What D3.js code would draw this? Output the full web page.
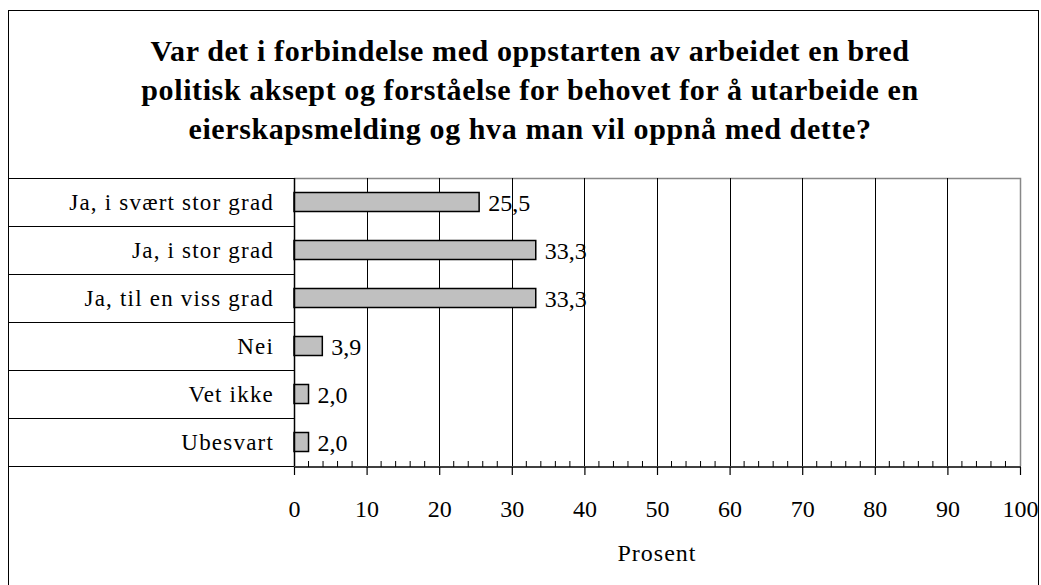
<!DOCTYPE html>
<html>
<head>
<meta charset="utf-8">
<script src="https://cdnjs.cloudflare.com/ajax/libs/d3/7.8.5/d3.min.js"></script>
<style>
  body { margin: 0; background: #fff; }
</style>
</head>
<body>
<svg id="chart"></svg>
<script>
// data
const categories = ["Ja, i svært stor grad", "Ja, i stor grad", "Ja, til en viss grad", "Nei", "Vet ikke", "Ubesvart"];
const values = [25.5, 33.3, 33.3, 3.9, 2.0, 2.0];
const xTicks = [0, 10, 20, 30, 40, 50, 60, 70, 80, 90, 100];
const titleLines = [
  "Var det i forbindelse med oppstarten av arbeidet en bred",
  "politisk aksept og forståelse for behovet for å utarbeide en",
  "eierskapsmelding og hva man vil oppnå med dette?"
];
const xLabel = "Prosent";

const FONT = "Times New Roman";
const W = 1041, H = 585;
const plot = { left: 294, right: 1020, top: 178, bottom: 466 };

const svg = d3.select("#chart")
  .attr("width", W).attr("height", H)
  .style("display", "block");

// outer frame
svg.append("rect")
  .attr("x", 8.5).attr("y", 10.5)
  .attr("width", 1030).attr("height", 580)
  .attr("fill", "none").attr("stroke", "#000").attr("stroke-width", 1);

// title
svg.append("g").selectAll("text")
  .data(titleLines)
  .enter().append("text")
  .attr("x", 530)
  .attr("y", (d, i) => 61 + i * 39)
  .attr("text-anchor", "middle")
  .attr("font-family", FONT)
  .attr("font-size", 30)
  .attr("font-weight", "bold")
  .attr("letter-spacing", 0.6)
  .text(d => d);

// scales
let x = d3.scaleLinear().domain([0, 100]).range([plot.left, plot.right]);
let y = d3.scaleBand().domain(categories).range([plot.top, plot.bottom]);

// plot border (grey top/right)
svg.append("path")
  .attr("d", `M${plot.left},${plot.top + 0.5}H${plot.right + 0.5}V${plot.bottom}`)
  .attr("fill", "none").attr("stroke", "#888").attr("stroke-width", 1.5);

// GRIDLINES
svg.append("g")
  .selectAll("line")
  .data(xTicks.filter(d => d > 0 && d < 100))
  .enter().append("line")
  .attr("x1", d => Math.round(x(d)) + 0.5)
  .attr("x2", d => Math.round(x(d)) + 0.5)
  .attr("y1", plot.top)
  .attr("y2", plot.bottom)
  .attr("stroke", "#000").attr("stroke-width", 1);

// category table lines
svg.append("g")
  .selectAll("line")
  .data(categories.concat(["end"]))
  .enter().append("line")
  .attr("x1", 8)
  .attr("x2", plot.left)
  .attr("y1", (d, i) => plot.top + i * y.step() + 0.5)
  .attr("y2", (d, i) => plot.top + i * y.step() + 0.5)
  .attr("stroke", "#000").attr("stroke-width", 1);

// category labels
svg.append("g").selectAll("text")
  .data(categories)
  .enter().append("text")
  .attr("x", 274)
  .attr("y", d => y(d) + y.bandwidth() / 2 + 8)
  .attr("text-anchor", "end")
  .attr("font-family", FONT)
  .attr("font-size", 23)
  .attr("letter-spacing", 1.2)
  .text(d => d);

// bars
const barH = 19;
svg.append("g").selectAll("rect")
  .data(values)
  .enter().append("rect")
  .attr("x", x(0))
  .attr("y", (d, i) => y(categories[i]) + y.bandwidth() / 2 - barH / 2)
  .attr("width", d => x(d) - x(0))
  .attr("height", barH)
  .attr("fill", "#c0c0c0")
  .attr("stroke", "#000").attr("stroke-width", 1.5);

// value labels
svg.append("g").selectAll("text")
  .data(values)
  .enter().append("text")
  .attr("x", d => x(d) + 9)
  .attr("y", (d, i) => y(categories[i]) + y.bandwidth() / 2 + 9)
  .attr("font-family", FONT)
  .attr("font-size", 24)
  .text(d => d.toFixed(1).replace(".", ","));

// y axis line
svg.append("line")
  .attr("x1", plot.left + 0.5).attr("x2", plot.left + 0.5)
  .attr("y1", plot.top).attr("y2", plot.bottom)
  .attr("stroke", "#000").attr("stroke-width", 1.5);

// x axis: major ticks downward, minor ticks upward
const xAxis = d3.axisBottom(x)
  .tickValues(xTicks)
  .tickSize(8)
  .tickFormat(d3.format("d"));
const gx = svg.append("g")
  .attr("transform", `translate(0,${plot.bottom + 1})`)
  .call(xAxis);
gx.select(".domain").attr("stroke-width", 1.5).attr("d", `M${plot.left},0H${plot.right + 1}`);
gx.selectAll(".tick line").attr("stroke-width", 1.2);
gx.selectAll(".tick text")
  .attr("y", 50)
  .attr("dy", null)
  .attr("font-family", FONT)
  .attr("font-size", 24)
  .attr("fill", "#000");

gx.append("g").selectAll("line")
  .data(d3.range(0, 101, 2).filter(d => d % 10 !== 0))
  .enter().append("line")
  .attr("x1", d => x(d)).attr("x2", d => x(d))
  .attr("y1", 0).attr("y2", -6)
  .attr("stroke", "#000").attr("stroke-width", 1);

// axis label
svg.append("text")
  .attr("x", x(50))
  .attr("y", 561)
  .attr("text-anchor", "middle")
  .attr("font-family", FONT)
  .attr("font-size", 24)
  .attr("letter-spacing", 1)
  .text(xLabel);
</script>
</body>
</html>
